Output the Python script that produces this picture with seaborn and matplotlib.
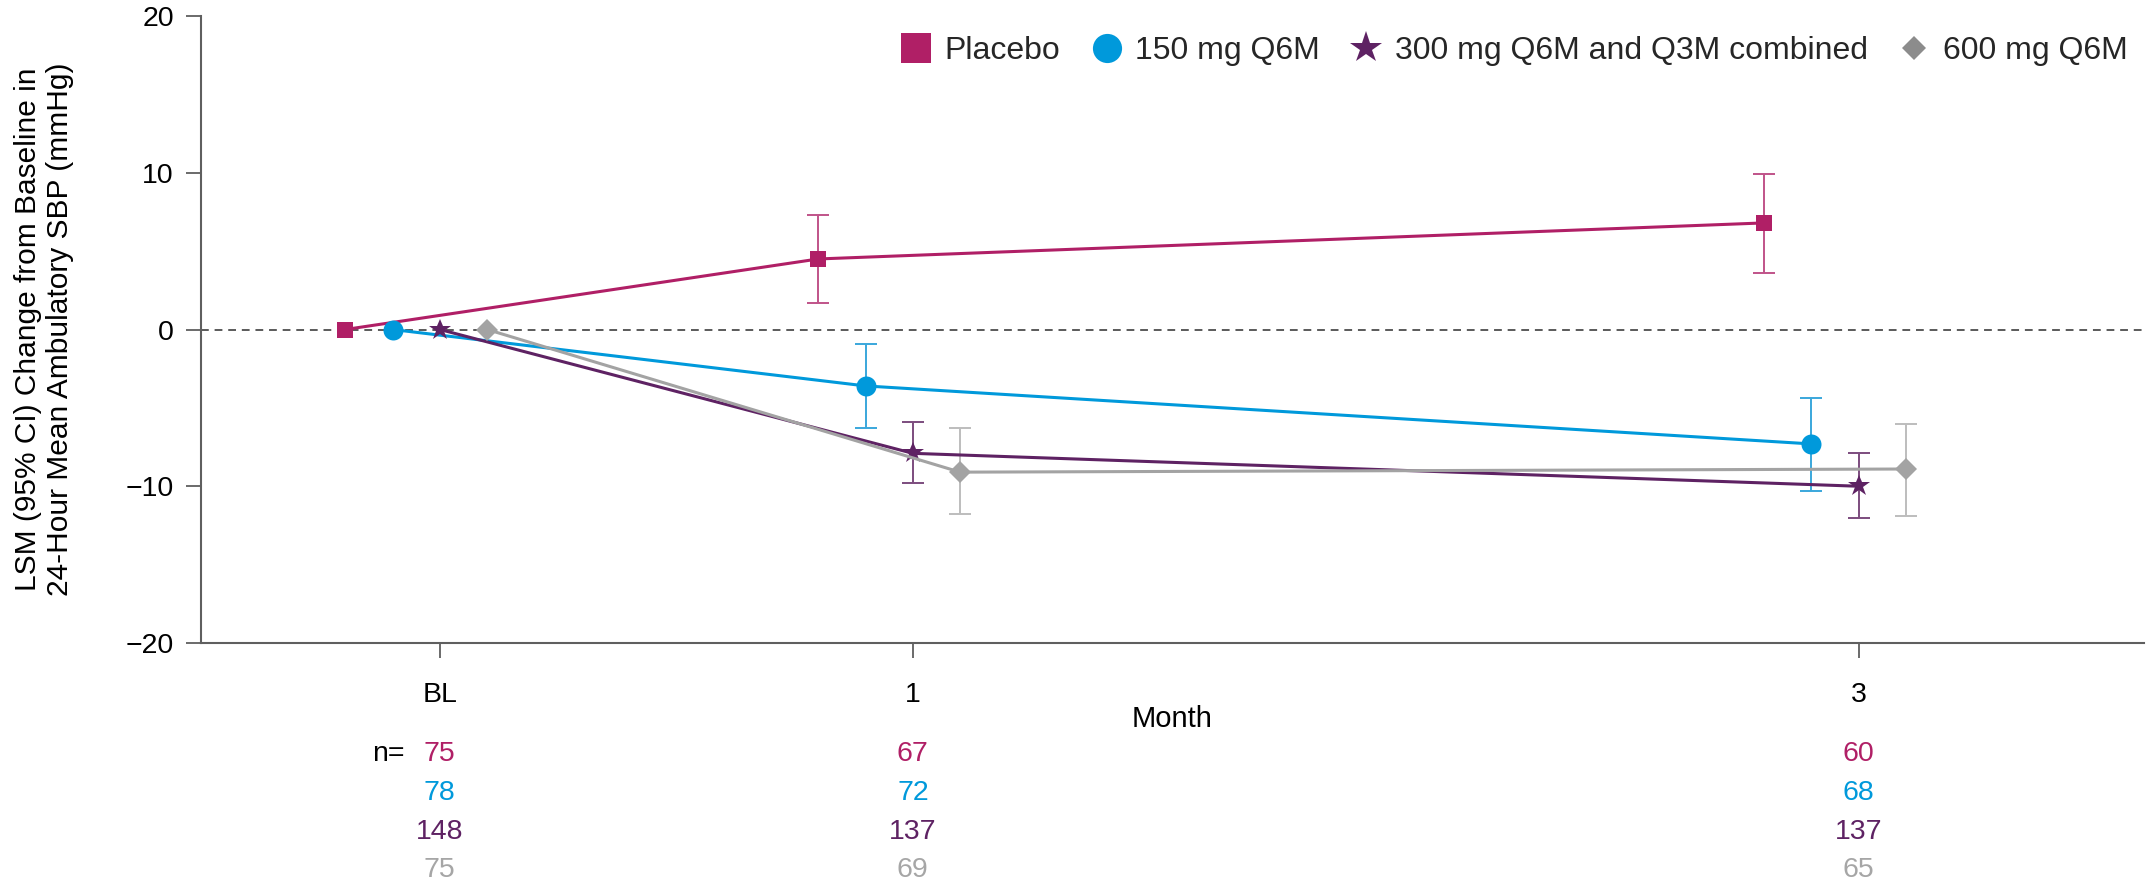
import matplotlib
matplotlib.use("Agg")
import matplotlib.pyplot as plt
import matplotlib.transforms as mtransforms
from matplotlib.lines import Line2D
import pandas as pd
import seaborn as sns

sns.set_theme(style="ticks")
plt.rcParams["font.family"] = ["Liberation Sans", "DejaVu Sans"]

# ---- data -------------------------------------------------------------
months = [0, 1, 3]
month_labels = ["BL", "1", "3"]
groups = ["Placebo", "150 mg Q6M", "300 mg Q6M and Q3M combined", "600 mg Q6M"]

placebo_lsm = [0.0, 4.5, 6.8]
placebo_lo = [0.0, 1.7, 3.6]
placebo_hi = [0.0, 7.3, 9.9]

q6m150_lsm = [0.0, -3.6, -7.3]
q6m150_lo = [0.0, -6.3, -10.3]
q6m150_hi = [0.0, -0.9, -4.4]

combined300_lsm = [0.0, -7.9, -10.0]
combined300_lo = [0.0, -9.8, -12.0]
combined300_hi = [0.0, -5.9, -7.9]

q6m600_lsm = [0.0, -9.1, -8.9]
q6m600_lo = [0.0, -11.8, -11.9]
q6m600_hi = [0.0, -6.3, -6.0]

n_placebo = [75, 67, 60]
n_150 = [78, 72, 68]
n_300 = [148, 137, 137]
n_600 = [75, 69, 65]

# ---- styling ----------------------------------------------------------
colors = ["#B01F66", "#0099DB", "#5E2263", "#A3A3A3"]
bar_colors = ["#C05389", "#3AA7DC", "#7C4C7E", "#BDBDBD"]
count_colors = ["#B01F66", "#0099DB", "#5E2263", "#A6A6A6"]
markers = ["s", "o", "*", "D"]
marker_sizes = [11, 14.4, 16.5, 11.5]
legend_sizes = [21.5, 21, 24, 12.5]
offsets = [-0.2, -0.1, 0.0, 0.1]
axis_grey = "#5f5f5f"

series = [
    (placebo_lsm, placebo_lo, placebo_hi, n_placebo),
    (q6m150_lsm, q6m150_lo, q6m150_hi, n_150),
    (combined300_lsm, combined300_lo, combined300_hi, n_300),
    (q6m600_lsm, q6m600_lo, q6m600_hi, n_600),
]

rows = []
for g, off, (lsm, lo, hi, n) in zip(groups, offsets, series):
    for m, v, l, h, k in zip(months, lsm, lo, hi, n):
        rows.append({"group": g, "month": m, "xpos": m + off,
                     "lsm": v, "lo": l, "hi": h, "n": k})
df = pd.DataFrame(rows)

W, H = 2148, 885
fig = plt.figure(figsize=(W / 100, H / 100), dpi=100)
ax = fig.add_axes([201 / W, 1 - 643 / H, (2144 - 201) / W, (643 - 16) / H])

ax.axhline(0, color="#5a5a5a", lw=1.4, ls=(0, (4, 3)), zorder=1)

for i, g in enumerate(groups):
    sub = df[df["group"] == g]
    sns.lineplot(data=sub, x="xpos", y="lsm", ax=ax, color=colors[i],
                 marker=markers[i], markersize=marker_sizes[i],
                 markeredgewidth=0, linewidth=2.2, legend=False,
                 errorbar=None, sort=False, zorder=4 + i)
    ci = sub[sub["month"] > 0]
    ax.errorbar(ci["xpos"], ci["lsm"],
                yerr=[ci["lsm"] - ci["lo"], ci["hi"] - ci["lsm"]],
                fmt="none", ecolor=bar_colors[i], elinewidth=1.4,
                capsize=8, capthick=1.4, zorder=3)

ax.set_xlim(-0.505, 3.603)
ax.set_ylim(-20, 20)
ax.set_yticks([-20, -10, 0, 10, 20])
ax.set_xticks(months)
ax.set_xticklabels(month_labels)

for side in ["top", "right"]:
    ax.spines[side].set_visible(False)
for side in ["left", "bottom"]:
    ax.spines[side].set_color(axis_grey)
    ax.spines[side].set_linewidth(1.5)

ax.tick_params(axis="both", direction="out", length=11, width=1.3,
               color=axis_grey, labelsize=20.5, labelcolor="black")
ax.tick_params(axis="x", pad=17)
ax.tick_params(axis="y", pad=8.5)

ax.set_xlabel("Month", fontsize=21, color="black")
ax.xaxis.label.set_va("center")
ax.xaxis.set_label_coords(0.5, (643 - 719) / (643 - 16))

ax.set_ylabel("LSM (95% CI) Change from Baseline in\n24-Hour Mean Ambulatory SBP (mmHg)",
              fontsize=21.5, color="black", linespacing=1.2)
ax.yaxis.label.set_va("center")
ax.yaxis.set_label_coords((44 - 201) / (2144 - 201), 0.5)

# ---- patient counts under the axis ------------------------------------
trans = mtransforms.blended_transform_factory(ax.transData, fig.transFigure)
row_y = [1 - 754 / H, 1 - 793 / H, 1 - 832 / H, 1 - 870 / H]
fig.text(388 / W, row_y[0], "n=", ha="center", va="center", fontsize=20.5, color="black")
for i, (_, _, _, n) in enumerate(series):
    for m, k in zip(months, n):
        ax.text(m, row_y[i], str(k), transform=trans, ha="center", va="center",
                fontsize=20.5, color=count_colors[i])

# ---- legend -----------------------------------------------------------
handles = [Line2D([], [], linestyle="none", marker=markers[i], color=colors[i],
                  markersize=legend_sizes[i], markeredgewidth=0,
                  label=groups[i]) for i in range(4)]
handles[3].set_color("#8C8C8C")
ax.legend(handles=handles, loc="center right", ncol=4, frameon=False,
          bbox_to_anchor=(2128 / W, 1 - 51 / H), bbox_transform=fig.transFigure,
          fontsize=23, handlelength=1.0, handletextpad=0.4, columnspacing=0.95,
          borderaxespad=0, borderpad=0)

fig.savefig("out.png", dpi=100)
